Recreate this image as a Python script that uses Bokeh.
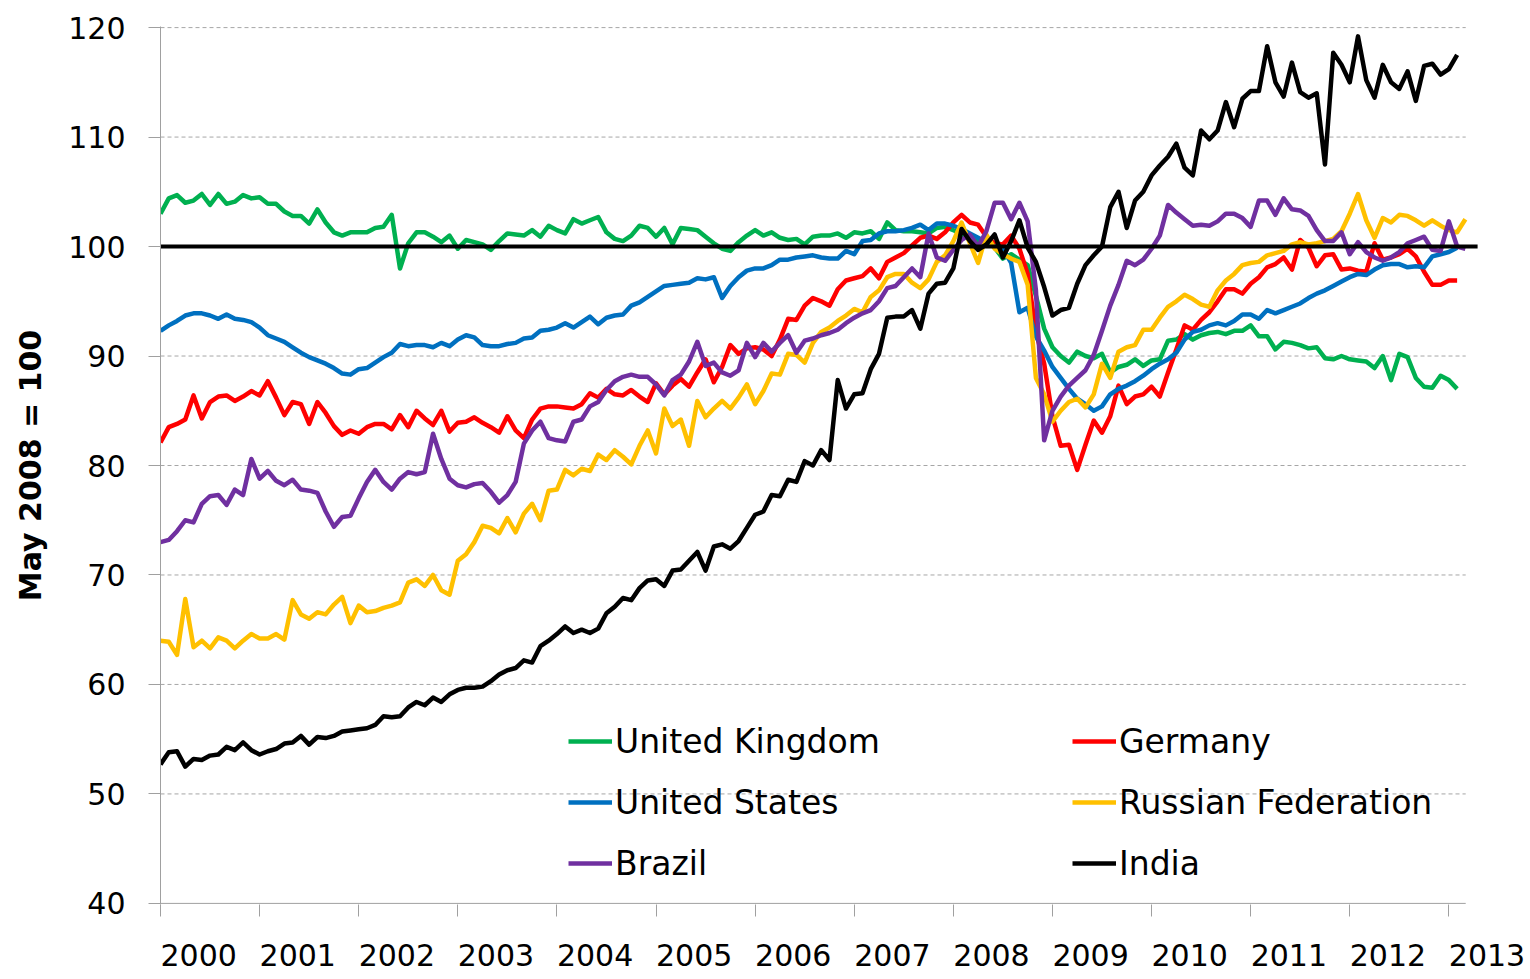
from bokeh.plotting import figure
from bokeh.models import (Range1d, LinearAxis, FixedTicker, Legend, LegendItem)
from bokeh.embed import file_html
from bokeh.resources import INLINE

# ---------------- data (monthly, Jan 2000 onwards, May 2008 = 100) ----------------
start_year = 2000
years = list(range(2000, 2014))
y_ticks = [40, 50, 60, 70, 80, 90, 100, 110, 120]
grid_levels = [50, 60, 70, 80, 90, 100, 110, 120]
reference_level = 100
axis_level = 40

united_kingdom = [
    103.0, 104.4, 104.7, 104.0, 104.2, 104.8, 103.8, 104.8, 103.9, 104.1,
    104.7, 104.4, 104.5, 103.9, 103.9, 103.2, 102.8, 102.8, 102.1, 103.4,
    102.2, 101.3, 101.0, 101.3, 101.3, 101.3, 101.7, 101.8, 102.9, 98.0,
    100.3, 101.3, 101.3, 100.9, 100.4, 101.0, 99.8, 100.6, 100.4, 100.2,
    99.7, 100.5, 101.2, 101.1, 101.0, 101.5, 100.9, 101.9, 101.5, 101.2,
    102.5, 102.1, 102.4, 102.7, 101.3, 100.7, 100.5, 101.0, 101.9, 101.7,
    100.9, 101.7, 100.2, 101.7, 101.6, 101.5, 100.9, 100.3, 99.8, 99.6,
    100.4, 101.0, 101.5, 101.0, 101.3, 100.8, 100.6, 100.7, 100.2, 100.9,
    101.0, 101.0, 101.2, 100.8, 101.3, 101.2, 101.4, 100.7, 102.2, 101.5,
    101.4, 101.4, 101.3, 101.2, 101.7, 101.8, 101.5, 101.1, 100.6, 100.5,
    100.6, 99.9, 98.9, 99.3, 98.8, 98.3, 95.5, 92.5, 90.8, 90.0,
    89.4, 90.4, 90.0, 89.8, 90.2, 88.5, 89.0, 89.2, 89.7, 89.1,
    89.6, 89.7, 91.4, 91.5, 92.0, 91.5, 91.9, 92.1, 92.2, 92.0,
    92.3, 92.3, 92.8, 91.8, 91.8, 90.6, 91.3, 91.2, 91.0, 90.7,
    90.8, 89.8, 89.7, 90.0, 89.7, 89.6, 89.5, 88.9, 90.0, 87.8,
    90.2, 89.9, 88.0, 87.2, 87.1, 88.2, 87.8, 87.0,
]

germany = [
    82.1, 83.5, 83.8, 84.2, 86.4, 84.3, 85.8, 86.3, 86.4, 85.9,
    86.3, 86.8, 86.4, 87.7, 86.2, 84.6, 85.8, 85.6, 83.8, 85.8,
    84.8, 83.6, 82.8, 83.2, 82.9, 83.5, 83.8, 83.8, 83.3, 84.6,
    83.5, 85.0, 84.3, 83.7, 85.0, 83.1, 83.9, 84.0, 84.4, 83.9,
    83.5, 83.0, 84.5, 83.2, 82.5, 84.2, 85.2, 85.4, 85.4, 85.3,
    85.2, 85.6, 86.6, 86.2, 87.0, 86.5, 86.4, 86.9, 86.3, 85.8,
    87.5, 86.5, 87.3, 87.9, 87.2, 88.5, 89.7, 87.6, 89.0, 91.0,
    90.2, 90.7, 90.8, 90.6, 90.0, 91.5, 93.4, 93.3, 94.6, 95.3,
    95.0, 94.6, 96.1, 96.9, 97.1, 97.3, 98.0, 97.1, 98.6, 99.0,
    99.4, 100.1, 100.8, 101.0, 100.7, 101.3, 102.2, 102.9, 102.2, 102.0,
    100.9, 100.3, 100.2, 101.0, 99.8, 97.5, 92.2, 89.3, 84.5, 81.8,
    81.9, 79.6, 81.9, 84.1, 83.0, 84.5, 87.3, 85.6, 86.3, 86.5,
    87.2, 86.3, 88.5, 90.6, 92.8, 92.4, 93.3, 94.0, 95.0, 96.1,
    96.1, 95.7, 96.6, 97.2, 98.1, 98.4, 99.0, 97.9, 100.6, 99.9,
    98.2, 99.2, 99.3, 97.9, 98.0, 97.8, 97.7, 100.3, 98.8, 99.0,
    99.3, 99.8, 99.1, 97.7, 96.5, 96.5, 96.9, 96.9,
]

united_states = [
    92.3, 92.8, 93.2, 93.7, 93.9, 93.9, 93.7, 93.4, 93.8, 93.4,
    93.3, 93.1, 92.6, 91.9, 91.6, 91.3, 90.8, 90.3, 89.9, 89.6,
    89.3, 88.9, 88.4, 88.3, 88.8, 88.9, 89.4, 89.9, 90.3, 91.1,
    90.9, 91.0, 91.0, 90.8, 91.2, 90.9, 91.5, 91.9, 91.7, 91.0,
    90.9, 90.9, 91.1, 91.2, 91.6, 91.7, 92.3, 92.4, 92.6, 93.0,
    92.6, 93.1, 93.6, 92.9, 93.5, 93.7, 93.8, 94.6, 94.9, 95.4,
    95.9, 96.4, 96.5, 96.6, 96.7, 97.1, 97.0, 97.2, 95.3, 96.4,
    97.2, 97.8, 98.0, 98.0, 98.3, 98.8, 98.8, 99.0, 99.1, 99.2,
    99.0, 98.9, 98.9, 99.6, 99.3, 100.5, 100.6, 101.2, 101.4, 101.4,
    101.5, 101.7, 102.0, 101.5, 102.1, 102.1, 101.9, 101.6, 101.2, 100.8,
    100.4, 100.0, 99.8, 98.5, 94.0, 94.4, 91.8, 90.5, 89.0, 88.0,
    87.0, 86.1, 85.6, 85.0, 85.4, 86.5, 87.0, 87.3, 87.7, 88.2,
    88.8, 89.3, 89.7, 90.3, 91.5, 92.2, 92.4, 92.8, 93.0, 92.8,
    93.2, 93.8, 93.8, 93.4, 94.2, 93.9, 94.2, 94.5, 94.8, 95.3,
    95.7, 96.0, 96.4, 96.8, 97.2, 97.5, 97.4, 97.9, 98.3, 98.4,
    98.4, 98.1, 98.2, 98.1, 99.1, 99.3, 99.5, 99.9,
]

russian_federation = [
    64.0, 63.9, 62.7, 67.8, 63.4, 64.0, 63.3, 64.3, 64.0, 63.3,
    64.0, 64.6, 64.2, 64.2, 64.6, 64.1, 67.7, 66.4, 66.0, 66.6,
    66.4, 67.3, 68.0, 65.6, 67.2, 66.6, 66.7, 67.0, 67.2, 67.5,
    69.3, 69.6, 69.0, 70.0, 68.6, 68.2, 71.3, 71.9, 73.0, 74.5,
    74.3, 73.8, 75.2, 73.9, 75.6, 76.5, 75.0, 77.7, 77.8, 79.6,
    79.1, 79.7, 79.5, 81.0, 80.5, 81.4, 80.8, 80.1, 81.8, 83.2,
    81.1, 85.2, 83.6, 84.2, 81.8, 85.9, 84.4, 85.2, 85.9, 85.2,
    86.2, 87.4, 85.6, 86.8, 88.4, 88.3, 90.2, 90.1, 89.4, 91.2,
    92.2, 92.6, 93.2, 93.7, 94.3, 94.0, 95.4, 96.0, 97.2, 97.5,
    97.5, 96.7, 96.2, 97.0, 98.6, 99.2, 100.5, 102.2, 100.3, 98.5,
    101.1, 99.8, 99.3, 98.9, 98.6, 96.5, 88.0, 86.5, 84.0, 85.0,
    85.8, 86.1, 85.3, 86.5, 89.3, 88.0, 90.4, 90.8, 91.0, 92.4,
    92.4, 93.5, 94.5, 95.0, 95.6, 95.2, 94.7, 94.5, 96.0, 96.9,
    97.5, 98.3, 98.5, 98.6, 99.2, 99.4, 99.6, 100.2, 100.4, 100.2,
    100.3, 100.5, 100.7, 101.4, 103.0, 104.8, 102.4, 100.8, 102.6, 102.2,
    102.9, 102.8, 102.4, 101.9, 102.4, 101.9, 101.5, 101.3, 102.5,
]

brazil = [
    73.0, 73.2, 74.0, 75.0, 74.8, 76.5, 77.2, 77.3, 76.4, 77.8,
    77.3, 80.6, 78.8, 79.5, 78.6, 78.2, 78.7, 77.8, 77.7, 77.5,
    75.8, 74.4, 75.3, 75.4, 77.0, 78.5, 79.6, 78.5, 77.8, 78.8,
    79.4, 79.2, 79.4, 82.9, 80.6, 78.8, 78.2, 78.0, 78.3, 78.4,
    77.6, 76.6, 77.3, 78.5, 82.0, 83.2, 84.0, 82.5, 82.3, 82.2,
    84.0, 84.2, 85.4, 85.8, 86.9, 87.7, 88.1, 88.3, 88.1, 88.1,
    87.4, 86.4, 87.8, 88.3, 89.5, 91.3, 89.1, 89.4, 88.5, 88.2,
    88.7, 91.2, 89.9, 91.2, 90.4, 91.2, 91.9, 90.3, 91.4, 91.6,
    91.9, 92.1, 92.4, 93.0, 93.5, 93.9, 94.2, 95.0, 96.2, 96.4,
    97.2, 98.0, 97.2, 101.2, 99.0, 98.7, 99.7, 100.6, 101.1, 100.0,
    101.4, 104.0, 104.0, 102.5, 104.0, 102.3, 96.0, 82.3, 85.0, 86.3,
    87.3, 88.0, 88.7, 90.1, 92.3, 94.6, 96.5, 98.7, 98.3, 98.8,
    99.8, 101.0, 103.8, 103.1, 102.5, 101.9, 102.0, 101.9, 102.3, 103.0,
    103.0, 102.6, 101.8, 104.2, 104.2, 102.9, 104.4, 103.4, 103.3, 102.8,
    101.5, 100.5, 100.5, 101.3, 99.3, 100.4, 99.5, 99.0, 98.7, 99.0,
    99.5, 100.3, 100.6, 100.9, 99.7, 99.6, 102.3, 100.0, 99.8,
]

india = [
    52.7, 53.8, 53.9, 52.5, 53.2, 53.1, 53.5, 53.6, 54.3, 54.0,
    54.7, 54.0, 53.6, 53.9, 54.1, 54.6, 54.7, 55.3, 54.5, 55.2,
    55.1, 55.3, 55.7, 55.8, 55.9, 56.0, 56.3, 57.1, 57.0, 57.1,
    57.9, 58.4, 58.1, 58.8, 58.4, 59.1, 59.5, 59.7, 59.7, 59.8,
    60.3, 60.9, 61.3, 61.5, 62.2, 62.0, 63.5, 64.0, 64.6, 65.3,
    64.7, 65.0, 64.7, 65.1, 66.5, 67.1, 67.9, 67.7, 68.8, 69.5,
    69.6, 69.0, 70.4, 70.5, 71.3, 72.1, 70.4, 72.6, 72.8, 72.4,
    73.1, 74.3, 75.5, 75.8, 77.3, 77.2, 78.7, 78.5, 80.4, 80.0,
    81.4, 80.5, 87.8, 85.2, 86.5, 86.6, 88.8, 90.2, 93.5, 93.6,
    93.6, 94.2, 92.5, 95.7, 96.6, 96.7, 98.0, 101.6, 100.5, 99.7,
    100.2, 101.1, 99.0, 100.5, 102.4, 99.9, 98.6, 96.3, 93.7, 94.2,
    94.4, 96.6, 98.3, 99.2, 100.0, 103.6, 105.0, 101.7, 104.2, 105.0,
    106.5, 107.4, 108.2, 109.4, 107.2, 106.5, 110.6, 109.8, 110.6, 113.2,
    110.9, 113.5, 114.2, 114.2, 118.3, 115.0, 113.7, 116.8, 114.1, 113.6,
    114.0, 107.5, 117.7, 116.6, 115.0, 119.2, 115.2, 113.6, 116.6, 115.0,
    114.4, 116.0, 113.3, 116.5, 116.7, 115.7, 116.2, 117.5,
]

series_names = ["United Kingdom", "Germany", "United States",
                "Russian Federation", "Brazil", "India"]
series_values = [united_kingdom, germany, united_states,
                 russian_federation, brazil, india]
series_colors = ["#00B050", "#FF0000", "#0070C0", "#FFC000", "#7030A0", "#000000"]

# ---------------- layout constants ----------------
X_END = 2013.40          # frame right edge (room for last year label)
AXIS_END = 2013.17       # where the x axis line and gridlines end
REF_END = 2013.29        # where the 100 reference line ends
LABEL_SHIFT = 0.385      # year labels sit right of their tick marks
FONT = "DejaVu Sans"
AXIS_GREY = "#A0A0A0"

p = figure(width=1528, height=978, output_backend="svg", toolbar_location=None,
           x_range=Range1d(start_year, X_END), y_range=Range1d(39.9, 120.1),
           x_axis_location=None,
           min_border_left=160, min_border_right=40,
           min_border_top=26, min_border_bottom=74)
p.outline_line_color = None
p.background_fill_color = "white"
p.border_fill_color = "white"
p.xgrid.visible = False
p.ygrid.visible = False

# dashed horizontal gridlines
n = len(grid_levels)
p.segment(x0=[start_year] * n, x1=[AXIS_END] * n, y0=grid_levels, y1=grid_levels,
          line_color="#A6A6A6", line_width=1, line_dash="4 3")

# x axis line (stops at the end of the category area)
p.segment(x0=[start_year], x1=[AXIS_END], y0=[axis_level], y1=[axis_level],
          line_color=AXIS_GREY, line_width=1)

# series
legend_items = []
for name, vals, col in zip(series_names, series_values, series_colors):
    xs = [start_year + i / 12.0 for i in range(len(vals))]
    r = p.line(xs, vals, line_color=col, line_width=4.5, line_join="round")
    legend_items.append(LegendItem(label=name, renderers=[r]))

# reference line at 100
p.segment(x0=[start_year], x1=[REF_END], y0=[reference_level], y1=[reference_level],
          line_color="black", line_width=4)

# y axis
ya = p.yaxis[0]
ya.ticker = FixedTicker(ticks=y_ticks)
ya.axis_line_color = AXIS_GREY
ya.major_tick_line_color = AXIS_GREY
ya.major_tick_out = 12
ya.major_tick_in = 0
ya.minor_tick_line_color = None
ya.major_label_text_font = FONT
ya.major_label_text_font_size = "30px"
ya.major_label_text_color = "black"
ya.major_label_standoff = 23
ya.axis_label = "May 2008 = 100"
ya.axis_label_text_font = FONT
ya.axis_label_text_font_size = "30px"
ya.axis_label_text_font_style = "bold"
ya.axis_label_text_color = "black"
ya.axis_label_standoff = 17

# x axis: labels on a shifted range, tick marks as minor ticks at the year boundaries
p.extra_x_ranges = {"labels": Range1d(start_year - LABEL_SHIFT, X_END - LABEL_SHIFT)}
xa = LinearAxis(x_range_name="labels")
xa.ticker = FixedTicker(ticks=years, minor_ticks=[y - LABEL_SHIFT for y in years])
xa.major_label_overrides = {y: str(y) for y in years}
xa.axis_line_color = None
xa.major_tick_line_color = None
xa.major_tick_out = 0
xa.major_tick_in = 0
xa.minor_tick_line_color = AXIS_GREY
xa.minor_tick_out = 12
xa.minor_tick_in = 0
xa.major_label_text_font = FONT
xa.major_label_text_font_size = "30px"
xa.major_label_text_color = "black"
xa.major_label_standoff = 27
p.add_layout(xa, "below")

# legends (two columns)
def make_legend(items, x):
    return Legend(items=items, location=(x, 21), orientation="vertical",
                  glyph_width=44, glyph_height=40, label_height=40,
                  label_standoff=3, spacing=21, padding=0, margin=0,
                  border_line_color=None, background_fill_alpha=0,
                  label_text_font=FONT, label_text_font_size="33px",
                  label_text_color="black")

leg1 = make_legend([legend_items[0], legend_items[2], legend_items[4]], 408)
leg2 = make_legend([legend_items[1], legend_items[3], legend_items[5]], 912)
p.add_layout(leg1, "center")
p.add_layout(leg2, "center")

open("out.html", "w").write(file_html(p, INLINE))
